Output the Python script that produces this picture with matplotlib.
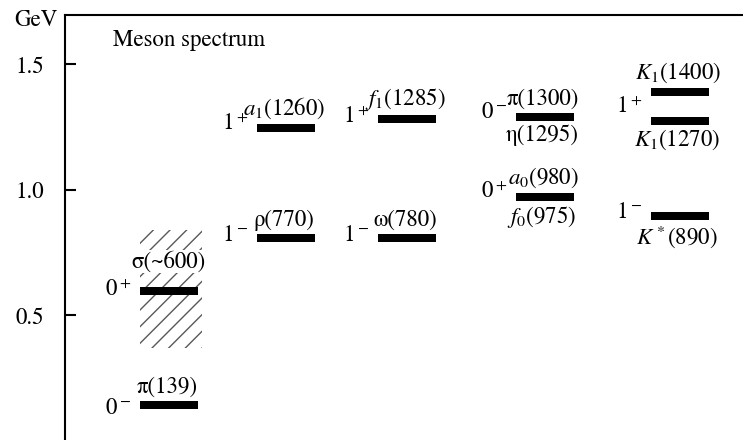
import matplotlib
matplotlib.use('Agg')
import matplotlib.pyplot as plt
from matplotlib.patches import Rectangle

plt.rcParams['font.family'] = ['STIXGeneral', 'DejaVu Serif']
plt.rcParams['mathtext.fontset'] = 'stix'
plt.rcParams['hatch.linewidth'] = 1.0

# niveaux (GeV)
col_x = [169, 286, 407, 545, 680]          # centres des colonnes (pixels)
bar_col = [0, 0, 1, 1, 2, 2, 3, 3, 4, 4, 4]
bar_level = [0.143, 0.598, 0.809, 1.247, 0.809, 1.283, 1.291, 0.972, 1.39, 1.275, 0.896]

# étiquettes au-dessus / au-dessous des barres
top_label = ['π(139)', None, 'ρ(770)', r'$a_1$(1260)', 'ω(780)',
             r'$f_1$(1285)', 'π(1300)', r'$a_0$(980)', r'$K_1$(1400)', None, None]
bot_label = [None, None, None, None, None, None, 'η(1295)', r'$f_0$(975)',
             None, r'$K_1$(1270)', r'$K^*$(890)']

# J^P
jp_text = [r'$0^-$', r'$0^+$', r'$1^-$', r'$1^+$', r'$1^-$', r'$1^+$', r'$0^-$', r'$0^+$', r'$1^+$', r'$1^-$']
jp_col = [0, 0, 1, 1, 2, 2, 3, 3, 4, 4]
jp_level = [0.13, 0.60, 0.82, 1.26, 0.82, 1.29, 1.31, 0.99, 1.33, 0.91]

# zone hachurée du sigma
sigma_lo, sigma_hi = 0.37, 0.84

W, H = 743, 440
fig = plt.figure(figsize=(W / 100, H / 100), dpi=100)
ax = fig.add_axes([65 / W, 0, 1 - 65 / W, 425 / H])
ax.set_xlim(65, 743)
ax.set_ylim(0.004, 1.697)

half = 29
for c, lv in zip(bar_col, bar_level):
    ax.barh(lv, 2 * half, left=col_x[c] - half, height=0.032, color='black', zorder=3)

ax.add_patch(Rectangle((col_x[0] - 29, sigma_lo), 62, sigma_hi - sigma_lo,
                       fill=False, hatch='//', edgecolor='0.35', linewidth=0, zorder=1))
ax.annotate('σ(~600)', (col_x[0], bar_level[1]), xytext=(0, 29),
            textcoords='offset pixels', ha='center', va='center', fontsize=16.5,
            bbox=dict(facecolor='white', edgecolor='none', pad=0.5), zorder=2)

for i, (c, lv) in enumerate(zip(bar_col, bar_level)):
    if top_label[i]:
        ax.annotate(top_label[i], (col_x[c] - 2, lv), xytext=(0, 7),
                    textcoords='offset pixels', ha='center', va='bottom', fontsize=16.5)
    if bot_label[i]:
        ax.annotate(bot_label[i], (col_x[c] - 3, lv), xytext=(0, -7),
                    textcoords='offset pixels', ha='center', va='top', fontsize=16.5)

for t, c, lv in zip(jp_text, jp_col, jp_level):
    ax.annotate(t, (col_x[c] - half, lv), xytext=(-9, 0),
                textcoords='offset pixels', ha='right', va='center', fontsize=16.5)

ax.text(113, 1.0 + (190 - 40) / 251, 'Meson spectrum', ha='left', va='center', fontsize=16.5)
fig.text(36 / W, 1 - 20 / H, 'GeV', ha='center', va='center', fontsize=16.5)

ax.set_xticks([])
ax.set_yticks([0.5, 1.0, 1.5])
ax.set_yticklabels(['0.5', '1.0', '1.5'], fontsize=16.5)
ax.tick_params(axis='y', direction='in', length=8, width=1.5, pad=15)
for s in ['right', 'bottom']:
    ax.spines[s].set_visible(False)
ax.spines['left'].set_linewidth(1.5)
ax.spines['top'].set_linewidth(1.5)

fig.savefig('out.png', dpi=100)
